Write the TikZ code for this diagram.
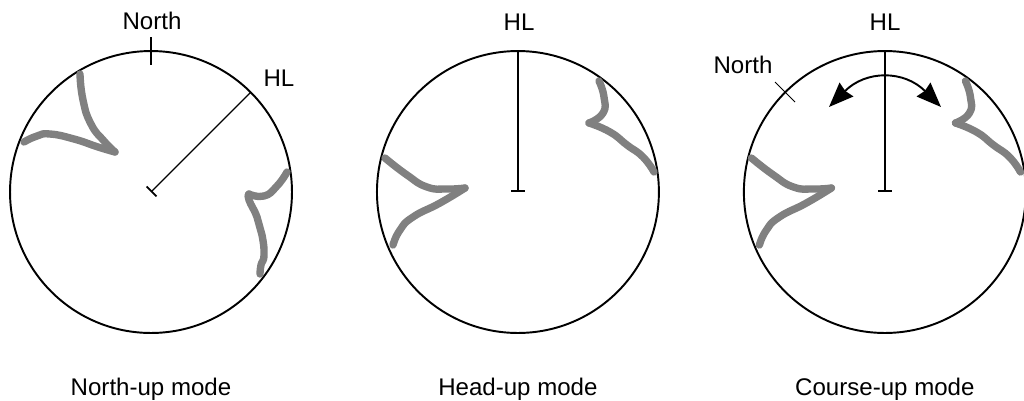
\documentclass[tikz,border=0pt]{standalone}
\usepackage{fontspec}
\setmainfont{Liberation Sans}
\usetikzlibrary{positioning,arrows.meta,calc}
\tikzset{
    scopeface/.style={circle,draw,line width=1.1pt,minimum size=5.64cm,inner sep=0pt,outer sep=0pt},
    tag/.style={font=\fontsize{13.7}{16}\selectfont,inner sep=0pt},
    caption/.style={tag,below=0.9cm of #1},
    headline/.style={line width=0.75pt,{Bar[width=8pt,line width=1pt]}-},
    northmark/.style={line width=0.6pt},
    swing/.style={line width=1.1pt,{Stealth[length=14pt,width=11pt,inset=1pt]}-{Stealth[length=14pt,width=11pt,inset=1pt]}},
    coast/.style={line width=4.2pt,draw=black!50,line cap=round,line join=round,smooth,tension=0.9},
}

\begin{document}
\begin{tikzpicture}[x=0.02cm,y=-0.02cm,node distance=1.7cm]
    \useasboundingbox (0,0) rectangle (1024,400);
    \node[scopeface] (northup) at (151,192) {};
    \node[scopeface,right=of northup] (headup) {};
    \node[scopeface,right=of headup] (courseup) {};

    % north-up mode
    \draw[coast] plot coordinates {(80,74) (83,100) (91,124) (104,141) (115,152)};
    \draw[coast] plot coordinates {(115,152) (98,147) (74,139) (50,134) (37,136) (24,142)};
    \draw[coast] plot coordinates {(287,172) (277,186) (264,196) (249,194)};
    \draw[coast] plot coordinates {(249,194) (249,200) (257,217) (262,235) (264,255) (261,265) (260,274)};
    \node[tag] (northa) at (152,21) {North};
    \node[tag] (hla) at (279,78) {HL};
    \coordinate (marka) at (151,37);
    \coordinate (markb) at (151,65);
    \draw[northmark] (marka) -- (markb);
    \draw[headline] (northup.center) -- (northup.45);

    % head-up mode
    \draw[coast] plot coordinates {(599,81) (604,97) (603,113) (589,123)};
    \draw[coast] plot coordinates {(589,123) (610,132) (627,145) (643,157) (654,172)};
    \draw[coast] plot coordinates {(385,158) (407,175) (427,187) (447,189) (465,188)};
    \draw[coast] plot coordinates {(465,188) (440,203) (413,217) (400,230) (393,245)};
    \node[tag] (hlb) at (519,22) {HL};
    \draw[headline] (headup.center) -- (headup.north);

    % course-up mode
    \begin{scope}[xshift=7.33cm]
        \draw[coast] plot coordinates {(599,81) (604,97) (603,113) (589,123)};
        \draw[coast] plot coordinates {(589,123) (610,132) (627,145) (643,157) (654,172)};
        \draw[coast] plot coordinates {(385,158) (407,175) (427,187) (447,189) (465,188)};
        \draw[coast] plot coordinates {(465,188) (440,203) (413,217) (400,230) (393,245)};
    \end{scope}
    \node[tag] (hlc) at (885,22) {HL};
    \node[tag] (northc) at (743,65) {North};
    \coordinate (markc) at (775,82);
    \coordinate (markd) at (795,102);
    \coordinate (swingl) at (829,107);
    \coordinate (swingr) at (941,107);
    \draw[northmark] (markc) -- (markd);
    \draw[headline] (courseup.center) -- (courseup.north);
    \draw[swing] (swingl) .. controls (866,70) and (904,70) .. (swingr);

    \node[caption=northup] (capa) {North-up mode};
    \node[caption=headup] (capb) {Head-up mode};
    \node[caption=courseup] (capc) {Course-up mode};
\end{tikzpicture}
\end{document}
